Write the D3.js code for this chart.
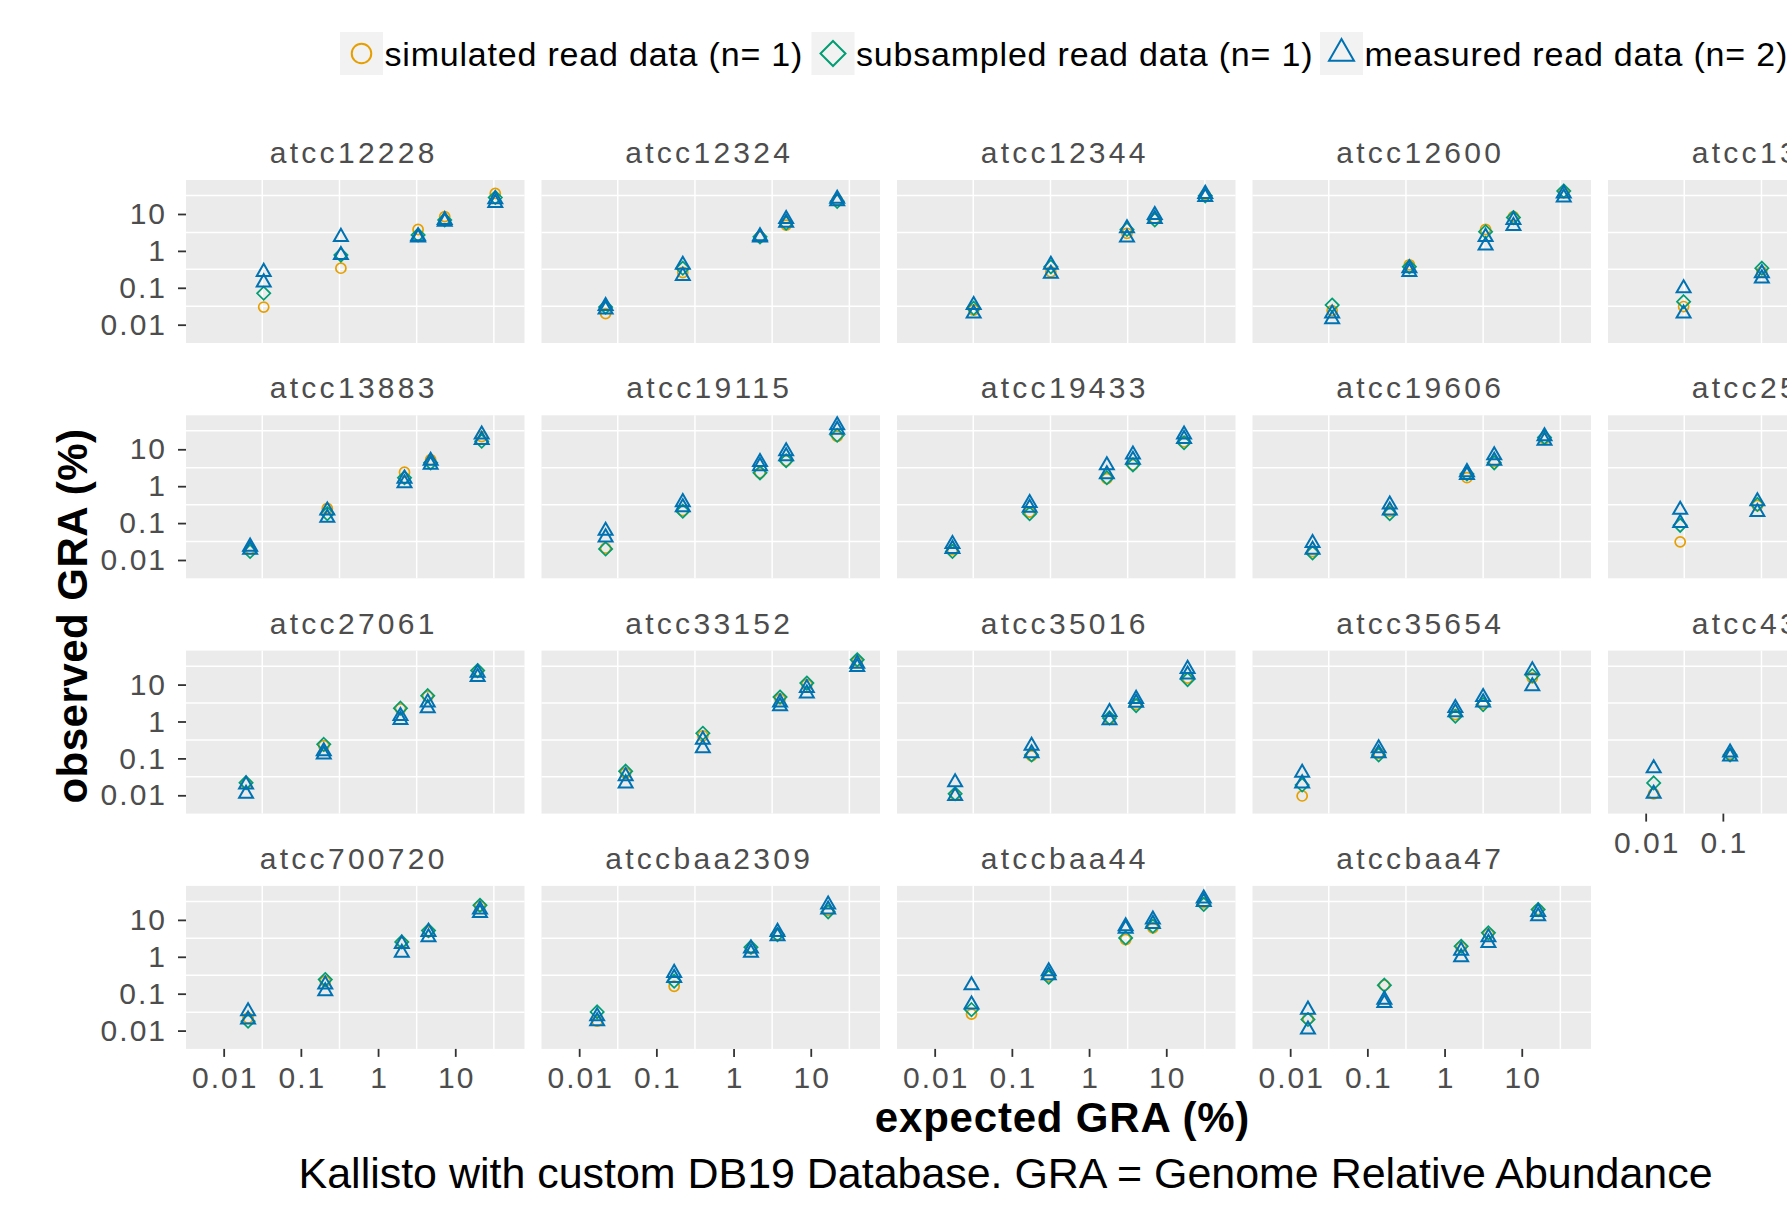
<!DOCTYPE html>
<html>
<head>
<meta charset="utf-8">
<script src="https://cdn.jsdelivr.net/npm/d3@7"></script>
<style>
    body { margin: 0; background: #fff; }
    text { font-family: "Liberation Sans", Arial, Helvetica, sans-serif; }
</style>
</head>
<body>
<div class="chart"></div>
<script>
// facets, row by row (5 columns); the 5th column is cut off at the right edge of the picture
const facets = [
    'atcc12228', 'atcc12324', 'atcc12344', 'atcc12600', 'atcc13048',
    'atcc13883', 'atcc19115', 'atcc19433', 'atcc19606', 'atcc25922',
    'atcc27061', 'atcc33152', 'atcc35016', 'atcc35654', 'atcc43300',
    'atcc700720', 'atccbaa2309', 'atccbaa44', 'atccbaa47'
];

// expected GRA (%) per facet (only the visible ones for the cut-off column)
const expected = [
    [0.033, 0.33, 3.3, 7.3, 33],
    [0.022, 0.22, 2.2, 4.8, 22],
    [0.032, 0.32, 3.1, 7.1, 32],
    [0.035, 0.35, 3.4, 7.8, 35],
    [0.031, 0.32],
    [0.022, 0.22, 2.2, 4.8, 22],
    [0.022, 0.22, 2.2, 4.8, 22],
    [0.017, 0.17, 1.7, 3.7, 17],
    [0.0195, 0.195, 1.95, 4.4, 19.7],
    [0.028, 0.28],
    [0.0195, 0.198, 1.95, 4.4, 19.5],
    [0.04, 0.4, 4.0, 8.9, 40],
    [0.0184, 0.18, 1.84, 4.07, 18.9],
    [0.0143, 0.14, 1.38, 3.16, 13.7],
    [0.0127, 0.124],
    [0.0207, 0.207, 2.03, 4.5, 20.9],
    [0.0171, 0.17, 1.68, 3.71, 16.8],
    [0.03, 0.3, 2.98, 6.71, 30.6],
    [0.017, 0.166, 1.64, 3.7, 16.3]
];

// observed GRA (%)
const simulated = [
    [0.03, 0.34, 3.8, 8.5, 36],
    [0.02, 0.26, 2.4, 5.0, 24],
    [0.025, 0.27, 3.0, 7.6, 33],
    [0.024, 0.42, 3.8, 8.5, 38],
    [0.031, 0.27],
    [0.02, 0.25, 2.4, 5.2, 22],
    [0.021, 0.22, 2.3, 4.9, 22.5],
    [0.019, 0.2, 1.6, 3.8, 16],
    [0.017, 0.21, 1.7, 4.7, 19.4],
    [0.031, 0.3],
    [0.021, 0.22, 2.2, 4.8, 23],
    [0.04, 0.41, 4.1, 10, 43],
    [0.0103, 0.117, 1.17, 2.9, 15],
    [0.0096, 0.138, 1.54, 3.06, 15.2],
    [0.011, 0.132],
    [0.022, 0.218, 2.38, 4.73, 23.4],
    [0.018, 0.159, 1.67, 4.0, 17.9],
    [0.028, 0.297, 2.93, 6.07, 28.9],
    [0.021, 0.17, 1.82, 4.18, 19]
];

const subsampled = [
    [0.071, 0.77, 2.7, 6.9, 28],
    [0.03, 0.34, 2.4, 5.6, 22],
    [0.028, 0.37, 3.8, 6.9, 31],
    [0.034, 0.37, 3.3, 8.0, 42],
    [0.042, 0.34],
    [0.017, 0.18, 1.7, 4.3, 16.5],
    [0.02, 0.21, 2.3, 4.9, 24],
    [0.017, 0.18, 1.7, 3.8, 15],
    [0.0155, 0.18, 2.15, 4.3, 21],
    [0.087, 0.32],
    [0.022, 0.24, 2.3, 5.0, 24],
    [0.045, 0.48, 4.6, 11, 47],
    [0.011, 0.124, 1.25, 2.7, 13.7],
    [0.019, 0.124, 1.39, 2.87, 17.5],
    [0.0216, 0.124],
    [0.018, 0.241, 2.53, 5.14, 24.9],
    [0.032, 0.218, 1.82, 4.0, 16.5],
    [0.037, 0.279, 3.25, 6.73, 26.1],
    [0.02, 0.17, 1.93, 4.45, 19]
];

// two measured replicates
const measuredA = [
    [0.27, 2.4, 2.5, 6.9, 25],
    [0.032, 0.42, 2.5, 7.3, 26],
    [0.034, 0.42, 4.1, 9.4, 35],
    [0.02, 0.34, 2.4, 6.9, 36],
    [0.097, 0.25],
    [0.023, 0.22, 1.6, 4.9, 25],
    [0.062, 0.37, 4.5, 8.8, 45],
    [0.027, 0.35, 3.7, 7.2, 25],
    [0.029, 0.32, 2.4, 6.9, 22.5],
    [0.23, 0.39],
    [0.0195, 0.156, 1.4, 3.3, 21],
    [0.033, 0.32, 3.3, 8.1, 37],
    [0.0225, 0.22, 1.8, 4.1, 26.6],
    [0.041, 0.188, 2.33, 4.6, 24.4],
    [0.054, 0.144],
    [0.0335, 0.177, 2.24, 4.73, 19],
    [0.0245, 0.366, 1.67, 4.73, 26],
    [0.169, 0.406, 6.73, 10.2, 37.8],
    [0.037, 0.069, 1.47, 3.39, 16.5]
];

const measuredB = [
    [0.14, 0.77, 2.3, 6.2, 20],
    [0.026, 0.21, 2.3, 5.8, 22],
    [0.02, 0.24, 2.3, 7.3, 29],
    [0.014, 0.27, 1.4, 4.7, 28],
    [0.02, 0.18],
    [0.019, 0.14, 1.2, 3.8, 18],
    [0.041, 0.27, 3.5, 6.5, 34],
    [0.02, 0.26, 2.1, 5.2, 19],
    [0.019, 0.22, 2.0, 4.9, 17],
    [0.1, 0.2],
    [0.011, 0.127, 1.1, 2.3, 16],
    [0.021, 0.19, 2.6, 5.7, 30],
    [0.0096, 0.138, 1.08, 3.2, 18.7],
    [0.021, 0.138, 1.78, 3.3, 9.0],
    [0.011, 0.112],
    [0.02, 0.117, 1.28, 3.39, 15.5],
    [0.018, 0.268, 1.28, 3.61, 19],
    [0.051, 0.316, 5.8, 7.8, 30.8],
    [0.0107, 0.056, 0.97, 2.38, 12.6]
];

const tickValues = [0.01, 0.1, 1, 10];
const gridValues = [-1.5, -0.5, 0.5, 1.5].map(e => Math.pow(10, e));
const seriesLabels = ['simulated read data (n= 1)', 'subsampled read data (n= 1)', 'measured read data (n= 2)'];
const seriesColors = ['#E69F00', '#009E73', '#0072B2'];

/////////////////////////

const fullWidth = 1787;
const fullHeight = 1205;
const nCols = 5;
const panelW = 338.5;
const panelH = 163;
const colX = c => 186 + c * 355.5;
const rowY = r => 180 + r * 235.3;
const legendKeyX = [340, 811.5, 1320];

const svg = d3.select('.chart')
    .append('svg')
        .attr('width', fullWidth)
        .attr('height', fullHeight);

const xScale = d3.scaleLog()
    .domain([Math.pow(10, -2.488), Math.pow(10, 1.897)])
    .range([0, panelW]);

const yScale = d3.scaleLog()
    .domain([Math.pow(10, -2.496), Math.pow(10, 1.921)])
    .range([panelH, 0]);

// diamond drawn as a square turned by 45 degrees (ggplot shape 5)
const diamond = {
    draw(context, size) {
        const r = Math.sqrt(size / 2);
        context.moveTo(0, -r);
        context.lineTo(r, 0);
        context.lineTo(0, r);
        context.lineTo(-r, 0);
        context.closePath();
    }
};
const shapes = [d3.symbolCircle, diamond, d3.symbolTriangle];
const pointSizes = [80, 88, 84];
const keySizes = [300, 312, 270];

const nFacets = facets.length;
const lastRow = Math.floor((nFacets - 1) / nCols);

facets.forEach((name, i) => {
    const col = i % nCols;
    const row = Math.floor(i / nCols);
    const g = svg.append('g')
        .attr('transform', `translate(${colX(col)}, ${rowY(row)})`);

    g.append('rect')
        .attr('width', panelW)
        .attr('height', panelH)
        .attr('fill', '#EBEBEB');

    g.selectAll('.hgrid')
        .data(gridValues)
        .enter()
        .append('line')
        .attr('x1', 0)
        .attr('x2', panelW)
        .attr('y1', d => yScale(d))
        .attr('y2', d => yScale(d))
        .attr('stroke', '#fff')
        .attr('stroke-width', 1.5);

    g.selectAll('.vgrid')
        .data(gridValues)
        .enter()
        .append('line')
        .attr('y1', 0)
        .attr('y2', panelH)
        .attr('x1', d => xScale(d))
        .attr('x2', d => xScale(d))
        .attr('stroke', '#fff')
        .attr('stroke-width', 1.5);

    // strip label
    g.append('text')
        .attr('x', panelW / 2 - 1.5)
        .attr('y', -17)
        .attr('text-anchor', 'middle')
        .attr('font-size', 30)
        .attr('letter-spacing', 3.3)
        .attr('fill', '#4D4D4D')
        .text(name);

    const pts = [];
    expected[i].forEach((ex, j) => {
        pts.push({x: ex, y: simulated[i][j], s: 0});
        pts.push({x: ex, y: subsampled[i][j], s: 1});
    });
    expected[i].forEach((ex, j) => {
        pts.push({x: ex, y: measuredA[i][j], s: 2});
        pts.push({x: ex, y: measuredB[i][j], s: 2});
    });
    pts.sort((a, b) => a.s - b.s);

    g.selectAll('.pt')
        .data(pts)
        .enter()
        .append('path')
        .attr('transform', d => `translate(${xScale(d.x)}, ${yScale(d.y)})`)
        .attr('d', d => d3.symbol().type(shapes[d.s]).size(pointSizes[d.s])())
        .attr('fill', 'none')
        .attr('stroke', d => seriesColors[d.s])
        .attr('stroke-width', d => d.s === 2 ? 2 : 1.7);

    // left axis on first column
    if (col === 0) {
        const yAxis = d3.axisLeft(yScale)
            .tickValues(tickValues)
            .tickFormat(d => String(d))
            .tickSize(8)
            .tickPadding(11);
        const ax = g.append('g').call(yAxis);
        styleAxis(ax);
    }

    // bottom axis when nothing sits below this panel
    if (row === lastRow || i + nCols >= nFacets) {
        const xAxis = d3.axisBottom(xScale)
            .tickValues(tickValues)
            .tickFormat(d => String(d))
            .tickSize(8)
            .tickPadding(10);
        const ax = g.append('g')
            .attr('transform', `translate(0, ${panelH})`)
            .call(xAxis);
        styleAxis(ax);
        ax.selectAll('text').attr('dx', 1);
    }
});

function styleAxis(ax) {
    ax.select('.domain').remove();
    ax.selectAll('line')
        .attr('stroke', '#333')
        .attr('stroke-width', 1.8);
    ax.selectAll('text')
        .attr('font-size', 30)
        .attr('letter-spacing', 2)
        .attr('fill', '#4D4D4D')
        .style('font-family', '"Liberation Sans", Arial, sans-serif');
}

// axis titles
svg.append('text')
    .attr('transform', `translate(86.7, 616) rotate(-90)`)
    .attr('text-anchor', 'middle')
    .attr('font-size', 42)
    .attr('font-weight', 'bold')
    .attr('letter-spacing', 0.5)
    .attr('fill', '#000')
    .text('observed GRA (%)');

svg.append('text')
    .attr('x', 1062.5)
    .attr('y', 1131.5)
    .attr('text-anchor', 'middle')
    .attr('font-size', 42)
    .attr('font-weight', 'bold')
    .attr('letter-spacing', 0.8)
    .attr('fill', '#000')
    .text('expected GRA (%)');

// legend
const legend = svg.append('g');
seriesLabels.forEach((label, k) => {
    const lx = legendKeyX[k];
    const key = legend.append('g').attr('transform', `translate(${lx}, 32)`);
    key.append('rect')
        .attr('width', 43)
        .attr('height', 43)
        .attr('fill', '#F2F2F2');
    key.append('path')
        .attr('transform', 'translate(21.5, 21.5)')
        .attr('d', d3.symbol().type(shapes[k]).size(keySizes[k])())
        .attr('fill', 'none')
        .attr('stroke', seriesColors[k])
        .attr('stroke-width', 2);
    legend.append('text')
        .attr('x', lx + 44.5)
        .attr('y', 65.7)
        .attr('font-size', 34)
        .attr('letter-spacing', 0.8)
        .attr('fill', '#000')
        .text(label);
});

// caption
svg.append('text')
    .attr('x', 298.6)
    .attr('y', 1188)
    .attr('font-size', 42)
    .attr('textLength', 1414)
    .attr('lengthAdjust', 'spacingAndGlyphs')
    .attr('fill', '#000')
    .text('Kallisto with custom DB19 Database. GRA = Genome Relative Abundance');
</script>
</body>
</html>
